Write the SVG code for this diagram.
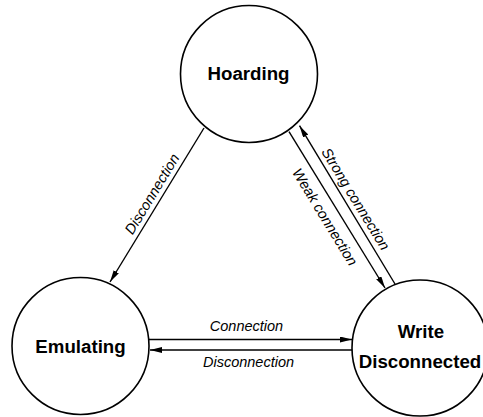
<svg xmlns="http://www.w3.org/2000/svg" width="483" height="417" viewBox="0 0 483 417">
<style>
.node{fill:#fff;stroke:#000;stroke-width:1.6}
.state{font-family:"Liberation Sans",Arial,sans-serif;font-weight:bold;font-size:18.7px;text-anchor:middle;fill:#000}
.edge{stroke:#000;stroke-width:1.4;fill:none;marker-end:url(#arr)}
.lbl{font-family:"Liberation Sans",Arial,sans-serif;font-style:italic;font-size:14.5px;text-anchor:middle;fill:#000}
</style>
<defs>
<marker id="arr" markerUnits="userSpaceOnUse" markerWidth="13" markerHeight="7" refX="12" refY="3" orient="auto">
<path d="M0,0 L12,3 L0,6 z" fill="#000"/>
</marker>
</defs>
<rect width="483" height="417" fill="#fff"/>
<g id="connectors">
<line class="edge" x1="204" y1="128" x2="110" y2="282"/>
<line class="edge" x1="289" y1="131.7" x2="385" y2="288"/>
<line class="edge" x1="395" y1="284" x2="299.5" y2="125.7"/>
<line class="edge" x1="149" y1="339.5" x2="352" y2="339.5"/>
<line class="edge" x1="352" y1="350" x2="150" y2="350"/>
<text class="lbl" transform="translate(152,194) rotate(-58.6)" y="5">Disconnection</text>
<text class="lbl" transform="translate(325,217) rotate(58.6)" y="5">Weak connection</text>
<text class="lbl" transform="translate(355.7,199) rotate(58.6)" y="5">Strong connection</text>
<text class="lbl" x="246.5" y="331">Connection</text>
<text class="lbl" x="248.5" y="366.5">Disconnection</text>
</g>
<g id="hoarding">
<circle class="node" cx="249" cy="74" r="68.5"/>
<text class="state" x="248.5" y="80">Hoarding</text>
</g>
<g id="emulating">
<circle class="node" cx="80.5" cy="346" r="68.5"/>
<text class="state" x="80.5" y="353">Emulating</text>
</g>
<g id="write-disconnected">
<circle class="node" cx="420" cy="348" r="68"/>
<text class="state" x="421" y="338">Write</text>
<text class="state" x="420" y="368">Disconnected</text>
</g>
</svg>
